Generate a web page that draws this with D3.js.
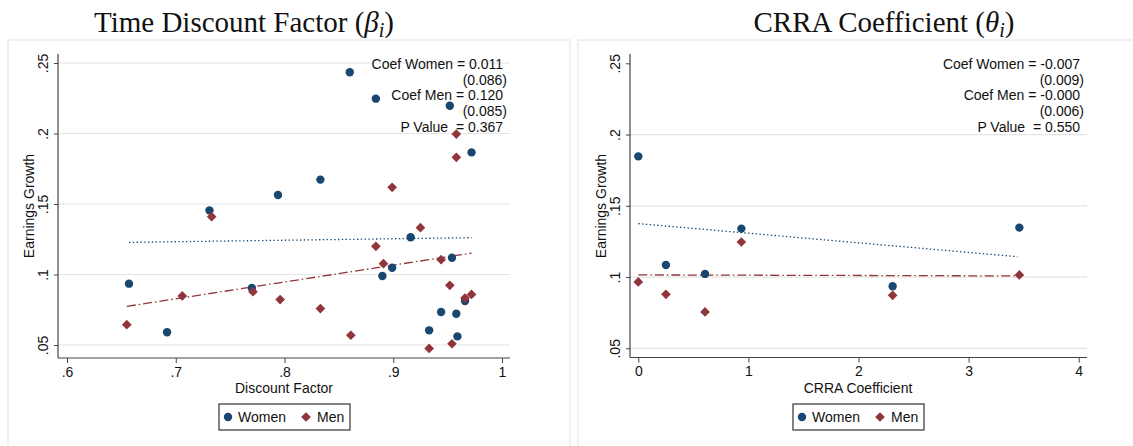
<!DOCTYPE html>
<html>
<head>
<meta charset="utf-8">
<script src="https://cdn.jsdelivr.net/npm/d3@7"></script>
<style>
  body { margin: 0; background: #fff; }
  svg text { font-family: "Liberation Sans", Arial, sans-serif; fill: #111; }
  .title { font-family: "Liberation Serif", "DejaVu Serif", serif; }
</style>
</head>
<body>
<div class="chart"></div>
<script>
// ---- data ----
const yTicks = [0.05, 0.1, 0.15, 0.2, 0.25];

const betaTicks = [0.6, 0.7, 0.8, 0.9, 1];
const betaWomenX = [0.657, 0.692, 0.731, 0.770, 0.794, 0.833, 0.860, 0.884, 0.890, 0.899, 0.916, 0.933, 0.944, 0.952, 0.954, 0.958, 0.959, 0.966, 0.972];
const betaWomenY = [0.0935, 0.059, 0.1455, 0.0904, 0.1564, 0.1673, 0.2434, 0.2247, 0.0989, 0.1048, 0.1264, 0.0604, 0.0734, 0.2197, 0.1119, 0.0722, 0.0561, 0.0812, 0.1866];
const betaMenX = [0.655, 0.706, 0.733, 0.771, 0.796, 0.833, 0.861, 0.884, 0.891, 0.899, 0.925, 0.933, 0.944, 0.952, 0.954, 0.958, 0.958, 0.966, 0.972];
const betaMenY = [0.0644, 0.0848, 0.141, 0.0878, 0.0822, 0.0758, 0.0569, 0.12, 0.1077, 0.1618, 0.1332, 0.0476, 0.1105, 0.0923, 0.0509, 0.1996, 0.1831, 0.0833, 0.0859];
const betaWomenFit = [[0.657, 0.1228], [0.972, 0.1261]];
const betaMenFit = [[0.655, 0.0774], [0.972, 0.1152]];
const betaNotes = ["Coef Women = 0.011", "(0.086)", "Coef Men = 0.120", "(0.085)", "P Value  = 0.367"];

const crraTicks = [0, 1, 2, 3, 4];
const crraWomenX = [0, 0.251, 0.606, 0.936, 2.310, 3.461];
const crraWomenY = [0.1847, 0.1085, 0.1022, 0.134, 0.0935, 0.1347];
const crraMenX = [0, 0.251, 0.606, 0.936, 2.310, 3.461];
const crraMenY = [0.0966, 0.0879, 0.0755, 0.1246, 0.0872, 0.1015];
const crraWomenFit = [[0, 0.1375], [3.443, 0.1143]];
const crraMenFit = [[0, 0.1015], [3.461, 0.1008]];
const crraNotes = ["Coef Women = -0.007", "(0.009)", "Coef Men = -0.000", "(0.006)", "P Value  = 0.550"];

const womenColor = "#1a476f", menColor = "#90353b";

const W = 1133, H = 446;
const svg = d3.select(".chart").append("svg").attr("width", W).attr("height", H);

const fmt = v => String(+v.toFixed(2)).replace(/^0\./, ".");

const drawPanel = p => {
  const g = svg.append("g");
  g.append("rect").attr("x", p.box[0]).attr("y", 40).attr("width", p.box[1] - p.box[0]).attr("height", 420)
    .attr("fill", "#fff").attr("stroke", "#e6e6e6").attr("stroke-width", 1.2);

  const x = d3.scaleLinear().domain([p.ticks[0], p.ticks[p.ticks.length - 1]]).range(p.xr);
  const y = d3.scaleLinear().domain([0.05, 0.25]).range(p.yr);

  // gridlines
  g.selectAll(".grid").data(yTicks.filter(t => p.grid25 || t < 0.25)).enter().append("line")
    .attr("x1", p.ax).attr("x2", p.ax1).attr("y1", d => y(d)).attr("y2", d => y(d))
    .attr("stroke", "#e4e4e4").attr("stroke-width", 1.2);

  // axes
  const xa = g.append("g").attr("transform", `translate(0,${p.ay})`)
    .call(d3.axisBottom(x).tickValues(p.ticks).tickFormat(fmt).tickSize(5).tickPadding(4));
  xa.select(".domain").remove();
  xa.selectAll("line").attr("stroke", "#444");
  xa.selectAll("text").attr("font-size", 14).style("font-family", "Liberation Sans");
  g.append("line").attr("x1", p.ax).attr("x2", p.ax1).attr("y1", p.ay).attr("y2", p.ay).attr("stroke", "#444").attr("stroke-width", 1.2);

  const ya = g.append("g").attr("transform", `translate(${p.ax},0)`)
    .call(d3.axisLeft(y).tickValues(yTicks).tickFormat(fmt).tickSize(4).tickPadding(0));
  ya.select(".domain").remove();
  ya.selectAll("line").attr("stroke", "#444");
  ya.selectAll("text").attr("font-size", 14).style("font-family", "Liberation Sans")
    .attr("text-anchor", "middle").attr("x", null).attr("dy", null)
    .attr("transform", d => `translate(${-10},0) rotate(-90)`);
  g.append("line").attr("x1", p.ax).attr("x2", p.ax).attr("y1", 54).attr("y2", p.ay).attr("stroke", "#444").attr("stroke-width", 1.2);

  // axis titles
  g.append("text").attr("x", p.xtx).attr("y", 393).attr("text-anchor", "middle").attr("font-size", 14).text(p.xTitle);
  g.append("text").attr("transform", `translate(${p.ax - 24},${206}) rotate(-90)`).attr("text-anchor", "middle")
    .attr("font-size", 14).text("Earnings Growth");

  // fit lines
  const line = d3.line().x(d => x(d[0])).y(d => y(d[1]));
  g.append("path").attr("d", line(p.wFit)).attr("fill", "none").attr("stroke", womenColor)
    .attr("stroke-width", 1.3).attr("stroke-dasharray", "1.4,2.4");
  g.append("path").attr("d", line(p.mFit)).attr("fill", "none").attr("stroke", menColor)
    .attr("stroke-width", 1.3).attr("stroke-dasharray", "9,3,1.5,3");

  // markers
  const women = p.wx.map((v, i) => [v, p.wy[i]]);
  const men = p.mx.map((v, i) => [v, p.my[i]]);
  g.selectAll(".w").data(women).enter().append("circle")
    .attr("cx", d => x(d[0])).attr("cy", d => y(d[1])).attr("r", 4.2).attr("fill", womenColor);
  const dia = d3.symbol().type(d3.symbolDiamond2).size(60);
  g.selectAll(".m").data(men).enter().append("path").attr("d", dia)
    .attr("transform", d => `translate(${x(d[0])},${y(d[1])})`).attr("fill", menColor);

  // notes
  g.selectAll(".note").data(p.notes).enter().append("text")
    .attr("x", (d, i) => p.noteX + (i % 2 ? 4 : 0)).attr("y", (d, i) => 69 + i * 15.7)
    .attr("text-anchor", "end").attr("font-size", 14).style("white-space", "pre").text(d => d);

  // legend
  const lg = g.append("g").attr("transform", `translate(${p.legX},404)`);
  lg.append("rect").attr("width", 131).attr("height", 26).attr("fill", "#fff").attr("stroke", "#333").attr("stroke-width", 1.2);
  lg.append("circle").attr("cx", 9).attr("cy", 13).attr("r", 4.2).attr("fill", womenColor);
  lg.append("text").attr("x", 19).attr("y", 18).attr("font-size", 14).text("Women");
  lg.append("path").attr("d", dia).attr("transform", "translate(87,13)").attr("fill", menColor);
  lg.append("text").attr("x", 98).attr("y", 18).attr("font-size", 14).text("Men");

  // title
  const t = svg.append("text").attr("class", "title").attr("x", p.titleX).attr("y", 32)
    .attr("text-anchor", "middle").attr("font-size", 29);
  t.append("tspan").text(p.title + " (");
  t.append("tspan").attr("font-style", "italic").text(p.sym);
  t.append("tspan").attr("font-style", "italic").attr("font-size", 20).attr("dy", 5).text("i");
  t.append("tspan").attr("dy", -5).text(")");
};

drawPanel({
  box: [8, 570], ax: 58, ax1: 510, ay: 358, xr: [67, 502], yr: [345, 63], grid25: true,
  ticks: betaTicks, xTitle: "Discount Factor", xtx: 284,
  wx: betaWomenX, wy: betaWomenY, mx: betaMenX, my: betaMenY,
  wFit: betaWomenFit, mFit: betaMenFit, notes: betaNotes, noteX: 503,
  legX: 219, title: "Time Discount Factor", sym: "β", titleX: 244
});

drawPanel({
  box: [578, 1140], ax: 630, ax1: 1087, ay: 357.5, xr: [638.3, 1078.7], yr: [348.3, 63.3], grid25: false,
  ticks: crraTicks, xTitle: "CRRA Coefficient", xtx: 858,
  wx: crraWomenX, wy: crraWomenY, mx: crraMenX, my: crraMenY,
  wFit: crraWomenFit, mFit: crraMenFit, notes: crraNotes, noteX: 1080,
  legX: 793, title: "CRRA Coefficient", sym: "θ", titleX: 884
});
</script>
</body>
</html>
